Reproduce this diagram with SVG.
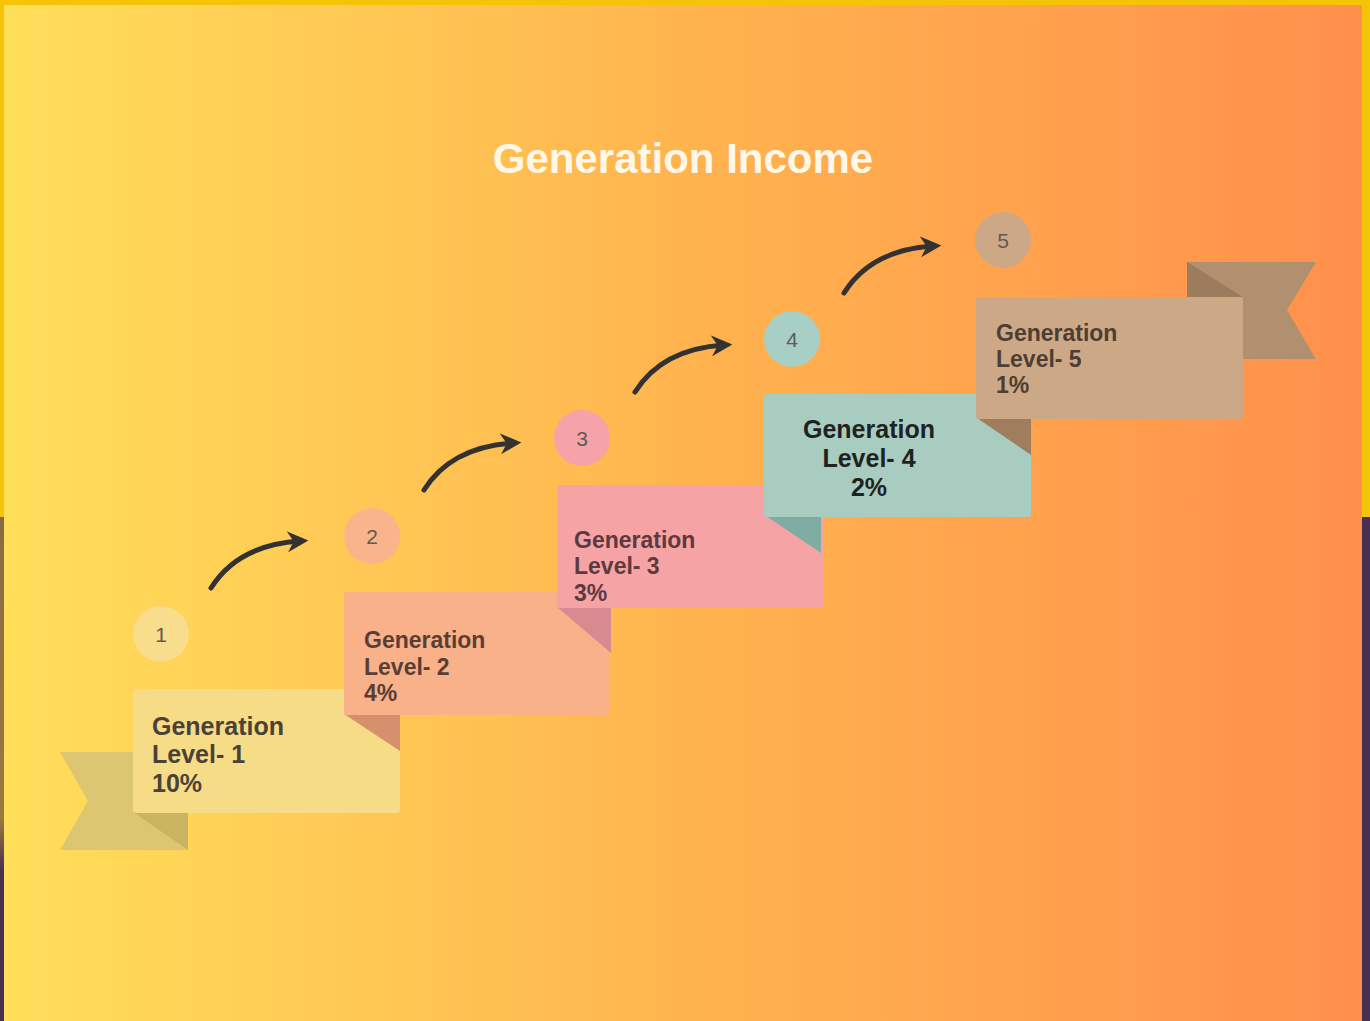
<svg xmlns="http://www.w3.org/2000/svg" width="1370" height="1021" viewBox="0 0 1370 1021">
<defs>
<linearGradient id="bg" x1="0" y1="0" x2="1" y2="0">
<stop offset="0" stop-color="#FFDF5A"/>
<stop offset="0.5" stop-color="#FFB44F"/>
<stop offset="1" stop-color="#FF8F4C"/>
</linearGradient>
<linearGradient id="lstrip" x1="0" y1="0" x2="0" y2="1">
<stop offset="0" stop-color="#8A6A45"/>
<stop offset="0.6" stop-color="#9A7A3E"/>
<stop offset="0.7" stop-color="#4A3050"/>
<stop offset="1" stop-color="#4A3050"/>
</linearGradient>
<marker id="ah" viewBox="0 0 10 10" refX="6" refY="5" markerWidth="4.2" markerHeight="4.2" orient="auto" markerUnits="strokeWidth">
<path d="M0,0 L10,5 L0,10 L3,5 Z" fill="#333230"/>
</marker>
<style>
.lbl{font-family:"Liberation Sans",Arial,sans-serif;font-weight:bold;}
.num{font-family:"Liberation Sans",Arial,sans-serif;font-size:21px;fill:#5E5A55;text-anchor:middle;}
.arr{fill:none;stroke:#333230;stroke-width:5;stroke-linecap:round;marker-end:url(#ah);}
</style>
</defs>
<rect x="0" y="0" width="1370" height="1021" fill="url(#bg)"/>
<rect x="0" y="0" width="1370" height="5" fill="#F5C406"/>
<rect x="0" y="0" width="4" height="517" fill="#F5C406"/>
<rect x="1362" y="0" width="8" height="517" fill="#F5C406"/>
<rect x="0" y="517" width="4" height="504" fill="url(#lstrip)"/>
<rect x="1362" y="517" width="8" height="504" fill="#4A3050"/>

<text x="683" y="173" text-anchor="middle" class="lbl" font-size="42" fill="#FFF8E8">Generation Income</text>

<g id="connectors">
<path class="arr" d="M211,588 Q238,545 300,541"/>
<path class="arr" d="M424,490 Q451,447 513,443"/>
<path class="arr" d="M635,392 Q662,349 724,345"/>
<path class="arr" d="M844,293 Q871,250 933,246"/>
</g>

<g id="node1">
<path d="M60,752 L188,752 L188,850 L60,850 L88,801 Z" fill="#DCC672"/>
<path d="M133,812 L188,812 L188,850 Z" fill="#C9B45F"/>
<rect x="133" y="689" width="267" height="124" rx="3" fill="#F6DC87"/>
<circle cx="161" cy="634" r="28" fill="#F7DD8C"/>
<text x="161" y="642" class="num">1</text>
<text class="lbl" font-size="25" fill="#4A4237"><tspan x="152" y="735">Generation</tspan><tspan x="152" y="763">Level- 1</tspan><tspan x="152" y="792">10%</tspan></text>
</g>

<g id="node2">
<path d="M344,714 L400,714 L400,751 Z" fill="#D6906E"/>
<rect x="344" y="592" width="266" height="123" rx="3" fill="#F9B18A"/>
<circle cx="372" cy="536" r="28" fill="#F9B48B"/>
<text x="372" y="544" class="num">2</text>
<text class="lbl" font-size="23" fill="#5A3E35"><tspan x="364" y="648">Generation</tspan><tspan x="364" y="675">Level- 2</tspan><tspan x="364" y="701">4%</tspan></text>
</g>

<g id="node3">
<path d="M557,607 L611,607 L611,653 Z" fill="#D88A93"/>
<rect x="557" y="485" width="267" height="123" rx="3" fill="#F5A3A5"/>
<circle cx="582" cy="438" r="28" fill="#F5A2A8"/>
<text x="582" y="446" class="num">3</text>
<text class="lbl" font-size="23" fill="#5C3A3F"><tspan x="574" y="548">Generation</tspan><tspan x="574" y="574">Level- 3</tspan><tspan x="574" y="601">3%</tspan></text>
</g>

<g id="node4">
<path d="M766,516 L821,516 L821,553 Z" fill="#7FADA2"/>
<rect x="764" y="394" width="267" height="123" rx="3" fill="#A8CCBF"/>
<circle cx="792" cy="339" r="28" fill="#A7CFC6"/>
<text x="792" y="347" class="num">4</text>
<text class="lbl" font-size="25" fill="#1F2320" text-anchor="middle"><tspan x="869" y="438">Generation</tspan><tspan x="869" y="467">Level- 4</tspan><tspan x="869" y="496">2%</tspan></text>
</g>

<g id="node5">
<path d="M1187,262 L1316,262 L1287,310 L1316,359 L1187,359 Z" fill="#B0906E"/>
<path d="M1187,262 L1243,297 L1187,297 Z" fill="#9C7C5C"/>
<path d="M977,418 L1031,418 L1031,455 Z" fill="#A07D5D"/>
<rect x="976" y="297" width="267" height="122" rx="3" fill="#CDA886"/>
<circle cx="1003" cy="240" r="28" fill="#CDA886"/>
<text x="1003" y="248" class="num">5</text>
<text class="lbl" font-size="23" fill="#4C3E33"><tspan x="996" y="341">Generation</tspan><tspan x="996" y="367">Level- 5</tspan><tspan x="996" y="393">1%</tspan></text>
</g>
</svg>
